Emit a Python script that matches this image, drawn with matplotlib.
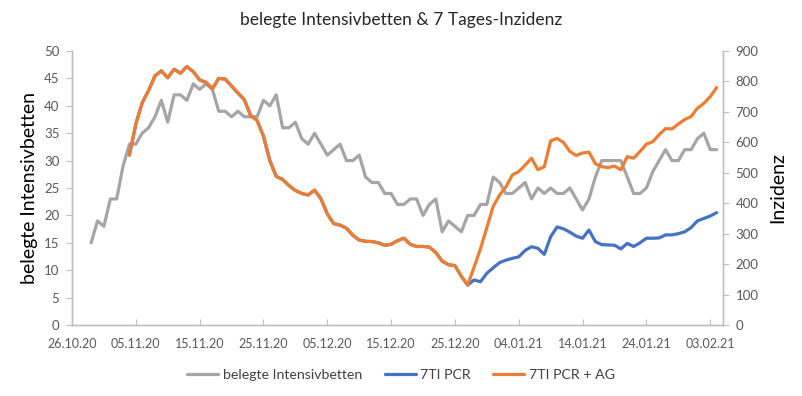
import datetime as dt
import matplotlib
matplotlib.use("Agg")
import matplotlib.pyplot as plt
import matplotlib.dates as mdates

plt.rcParams['font.family'] = ['Lato', 'DejaVu Sans']

# belegte Intensivbetten, daily from 29.10.20
beds_start = dt.date(2020, 10, 29)
beds = [15, 19, 18, 23, 23, 29, 33, 33, 35, 36, 38, 41, 37, 42, 42, 41, 44, 43, 44, 43,
        39, 39, 38, 39, 38, 38, 38, 41, 40, 42, 36, 36, 37, 34, 33, 35, 33, 31, 32, 33,
        30, 30, 31, 27, 26, 26, 24, 24, 22, 22, 23, 23, 20, 22, 23, 17, 19, 18, 17, 20,
        20, 22, 22, 27, 26, 24, 24, 25, 26, 23, 25, 24, 25, 24, 24, 25, 23, 21, 23, 27,
        30, 30, 30, 30, 27, 24, 24, 25, 28, 30, 32, 30, 30, 32, 32, 34, 35, 32, 32]

# 7-Tage-Inzidenz, daily from 04.11.20
inz_start = dt.date(2020, 11, 4)
pcr_ag = [558, 660, 730, 770, 818, 835, 812, 840, 827, 849, 832, 805, 797, 776, 810,
          808, 785, 762, 740, 688, 672, 620, 540, 488, 478, 458, 442, 432, 427, 443,
          415, 365, 333, 328, 318, 295, 279, 275, 274, 270, 262, 265, 277, 285, 265,
          258, 258, 256, 238, 210, 198, 195, 160, 131, 190, 250, 320, 390, 427, 454,
          493, 504, 525, 548, 510, 520, 605, 613, 600, 570, 557, 565, 568, 530, 520,
          517, 522, 510, 553, 548, 570, 594, 602, 625, 645, 644, 660, 675, 685, 712,
          728, 750, 780]
pcr = [558, 660, 730, 770, 818, 835, 812, 840, 827, 849, 832, 805, 797, 776, 810,
       808, 785, 762, 740, 688, 672, 620, 540, 488, 478, 458, 442, 432, 427, 443,
       415, 365, 333, 328, 318, 295, 279, 275, 274, 270, 262, 265, 277, 285, 265,
       258, 258, 256, 238, 210, 198, 195, 160, 131, 148, 142, 170, 188, 205, 213,
       219, 224, 245, 257, 252, 232, 290, 322, 316, 305, 292, 285, 312, 274, 264,
       263, 262, 250, 268, 258, 270, 285, 285, 286, 296, 296, 300, 306, 320, 342,
       350, 358, 369]

beds_dates = [beds_start + dt.timedelta(days=i) for i in range(len(beds))]
inz_dates = [inz_start + dt.timedelta(days=i) for i in range(len(pcr_ag))]
tick_dates = [dt.date(2020, 10, 26) + dt.timedelta(days=10 * i) for i in range(11)]

c_gray = '#A5A5A5'
c_blue = '#4472C4'
c_orange = '#ED7D31'
c_axis = '#BFBFBF'
c_text = '#595959'

fig = plt.figure(figsize=(8.02, 3.96), dpi=100)
ax = fig.add_axes([72 / 802, 1 - 325 / 396, (723 - 72) / 802, (325 - 51) / 396])
ax2 = ax.twinx()

line_kw = dict(lw=2.3, solid_capstyle='round', solid_joinstyle='round')
l1, = ax.plot(beds_dates, beds, color=c_gray, label='belegte Intensivbetten', **line_kw)
l2, = ax2.plot(inz_dates, pcr, color=c_blue, label='7TI PCR', **line_kw)
l3, = ax2.plot(inz_dates, pcr_ag, color=c_orange, label='7TI PCR + AG', **line_kw)

ax.set_ylim(0, 50)
ax.set_yticks(range(0, 51, 5))
ax2.set_ylim(0, 900)
ax2.set_yticks(range(0, 901, 100))
ax.set_xlim(dt.date(2020, 10, 26), dt.date(2021, 2, 5))
ax.set_xticks(tick_dates)
ax.xaxis.set_major_formatter(mdates.DateFormatter('%d.%m.%y'))

for a in (ax, ax2):
    a.spines['top'].set_visible(False)
    for s in ('left', 'right', 'bottom'):
        a.spines[s].set_color(c_axis)
        a.spines[s].set_linewidth(1.0)
ax.tick_params(axis='x', direction='in', length=4, color=c_axis, labelsize=9,
               labelcolor=c_text, pad=9)
ax.tick_params(axis='y', direction='out', length=4, color=c_axis, labelsize=9.5,
               labelcolor=c_text, pad=5)
ax2.tick_params(axis='y', direction='out', length=4, color=c_axis, labelsize=9.5,
                labelcolor=c_text, pad=5)

ax.set_ylabel('belegte Intensivbetten', fontsize=14, color='black', labelpad=4)
ax2.set_ylabel('Inzidenz', fontsize=14, color='black', labelpad=8)

fig.text(0.5, 1 - 20 / 396, 'belegte Intensivbetten & 7 Tages-Inzidenz',
         ha='center', va='center', fontsize=12.5, color='#262626')

fig.legend(handles=[l1, l2, l3], loc='center', bbox_to_anchor=(0.5, 1 - 375 / 396),
           ncol=3, frameon=False, fontsize=10.2, handlelength=2.2, columnspacing=1.6,
           handletextpad=0.3, labelcolor='#404040')

fig.savefig('out.png', dpi=100, facecolor='white')
